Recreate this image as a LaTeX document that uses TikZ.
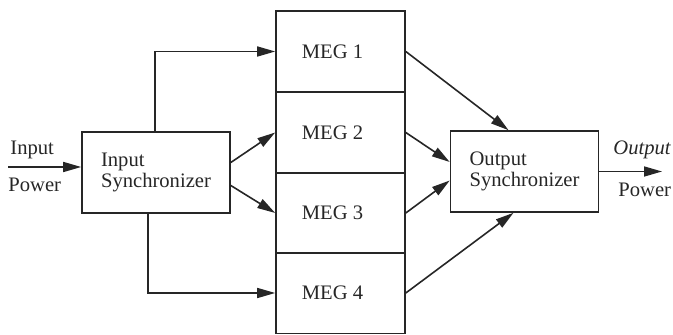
\documentclass[tikz,border=0pt]{standalone}
\usepackage{fontspec}
\setmainfont{Liberation Serif}
\usetikzlibrary{arrows.meta,calc}
\begin{document}
\begin{tikzpicture}[x=0.5pt,y=-0.5pt,
  every node/.style={font=\fontsize{10.3}{10.3}\selectfont, text=black!85},
  blk/.style={draw=black!85, line width=0.8pt, rectangle, inner sep=0pt},
  sync/.style={blk, minimum width=74pt, minimum height=40.5pt, align=left},
  meg/.style={blk, minimum width=64.5pt, minimum height=40.5pt},
  conn/.style={draw=black!85, line width=0.8pt, -{Triangle[length=9pt,width=5pt]}},
  lbl/.style={inner sep=0pt, anchor=base west}]
\useasboundingbox (0,0) rectangle (673,335);
\node[sync] (insync) at (156,172.5) {Input\\Synchronizer};
\node[sync] (outsync) at (524.5,171.5) {Output\\Synchronizer};
\node[meg] (meg1) at (340.5,51.5) {MEG 1\hspace*{8pt}};
\node[meg] (meg2) at (340.5,132.5) {MEG 2\hspace*{8pt}};
\node[meg] (meg3) at (340.5,213) {MEG 3\hspace*{8pt}};
\node[meg] (meg4) at (340.5,293) {MEG 4\hspace*{8pt}};
\node[lbl] (inlbl) at (10,155) {Input};
\node[lbl] (inpow) at (8,192) {Power};
\node[lbl] (outlbl) at (613,155) {\itshape Output};
\node[lbl] (outpow) at (618,197) {Power};
\coordinate (inpt) at (8,167);
\coordinate (outpt) at (662,171.5);
\draw[conn] (inpt) -- (inpt -| insync.west);
\draw[conn] ($(insync.north west)+(74,0)$) |- (meg1.west);
\draw[conn] ($(insync.south west)+(67,0)$) |- (meg4.west);
\draw[conn] ($(insync.east)+(0,-10)$) -- (meg2.west);
\draw[conn] ($(insync.east)+(0,13)$) -- (meg3.west);
\draw[conn] (meg1.east) -- ($(outsync.north)+(-16,0)$);
\draw[conn] (meg2.east) -- ($(outsync.west)+(0,-9.5)$);
\draw[conn] (meg3.east) -- ($(outsync.west)+(0,9)$);
\draw[conn] (meg4.east) -- ($(outsync.south)+(-11,0)$);
\draw[conn] (outsync.east) -- (outpt);
\end{tikzpicture}
\end{document}
